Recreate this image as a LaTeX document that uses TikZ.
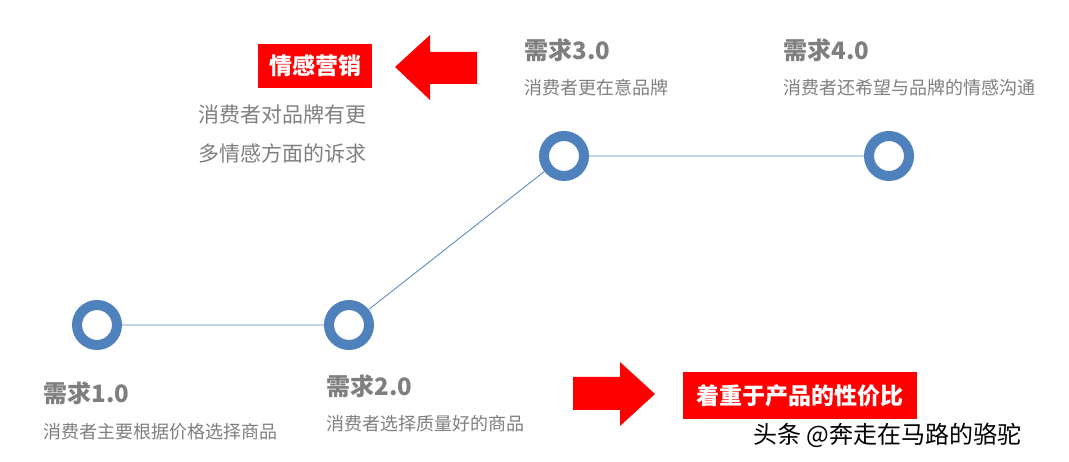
\documentclass[tikz,border=0pt]{standalone}
\usepackage{fontspec}
\setmainfont{Noto Sans CJK SC}
\definecolor{rb}{HTML}{4F81BD}
\definecolor{tg}{HTML}{7F7F7F}
\begin{document}
\begin{tikzpicture}[x=1pt,y=-1pt,
 ring/.style={circle,draw=rb,line width=10pt,fill=white,minimum size=40pt,inner sep=0},
 ttl/.style={anchor=west,text=tg,font=\fontsize{24}{26}\selectfont\bfseries},
 sub/.style={anchor=west,text=tg,font=\fontsize{18}{20}\selectfont},
 rbox/.style={fill=red,text=white,font=\fontsize{23}{25}\selectfont\bfseries,inner sep=0,anchor=center}]
\useasboundingbox (0,0) rectangle (1069,462);
\node[ring] (c1) at (97,325) {};
\node[ring] (c2) at (349,325) {};
\node[ring] (c3) at (564,156) {};
\node[ring] (c4) at (889,156) {};
\draw[rb,line width=0.8pt] (c1) -- (c2) -- (c3) -- (c4);
\node[ttl] (t1) at (40,393) {需求1.0};
\node[sub] (s1) at (40,432) {消费者主要根据价格选择商品};
\node[ttl] (t2) at (323,386) {需求2.0};
\node[sub] (s2) at (323,424) {消费者选择质量好的商品};
\node[ttl] (t3) at (521,50) {需求3.0};
\node[sub] (s3) at (521,88) {消费者更在意品牌};
\node[ttl] (t4) at (780,50) {需求4.0};
\node[sub] (s4) at (780,88) {消费者还希望与品牌的情感沟通};
\node[rbox,minimum width=114pt,minimum height=44pt] (b1) at (315,66) {情感营销};
\node[rbox,minimum width=234pt,minimum height=47pt] (b2) at (800,396) {着重于产品的性价比};
\node[sub,font=\fontsize{21}{23}\selectfont] (d1) at (195,115) {消费者对品牌有更};
\node[sub,font=\fontsize{21}{23}\selectfont] (d2) at (195,153) {多情感方面的诉求};
\fill[red] (395,67) -- (430,35) -- (430,52) -- (477,52) -- (477,84) -- (430,84) -- (430,100) -- cycle;
\fill[red] (655,394) -- (620,362) -- (620,377) -- (573,377) -- (573,410) -- (620,410) -- (620,426) -- cycle;
\node[anchor=west,font=\fontsize{24}{26}\selectfont] (w) at (750,435) {头条 @奔走在马路的骆驼};
\end{tikzpicture}
\end{document}
